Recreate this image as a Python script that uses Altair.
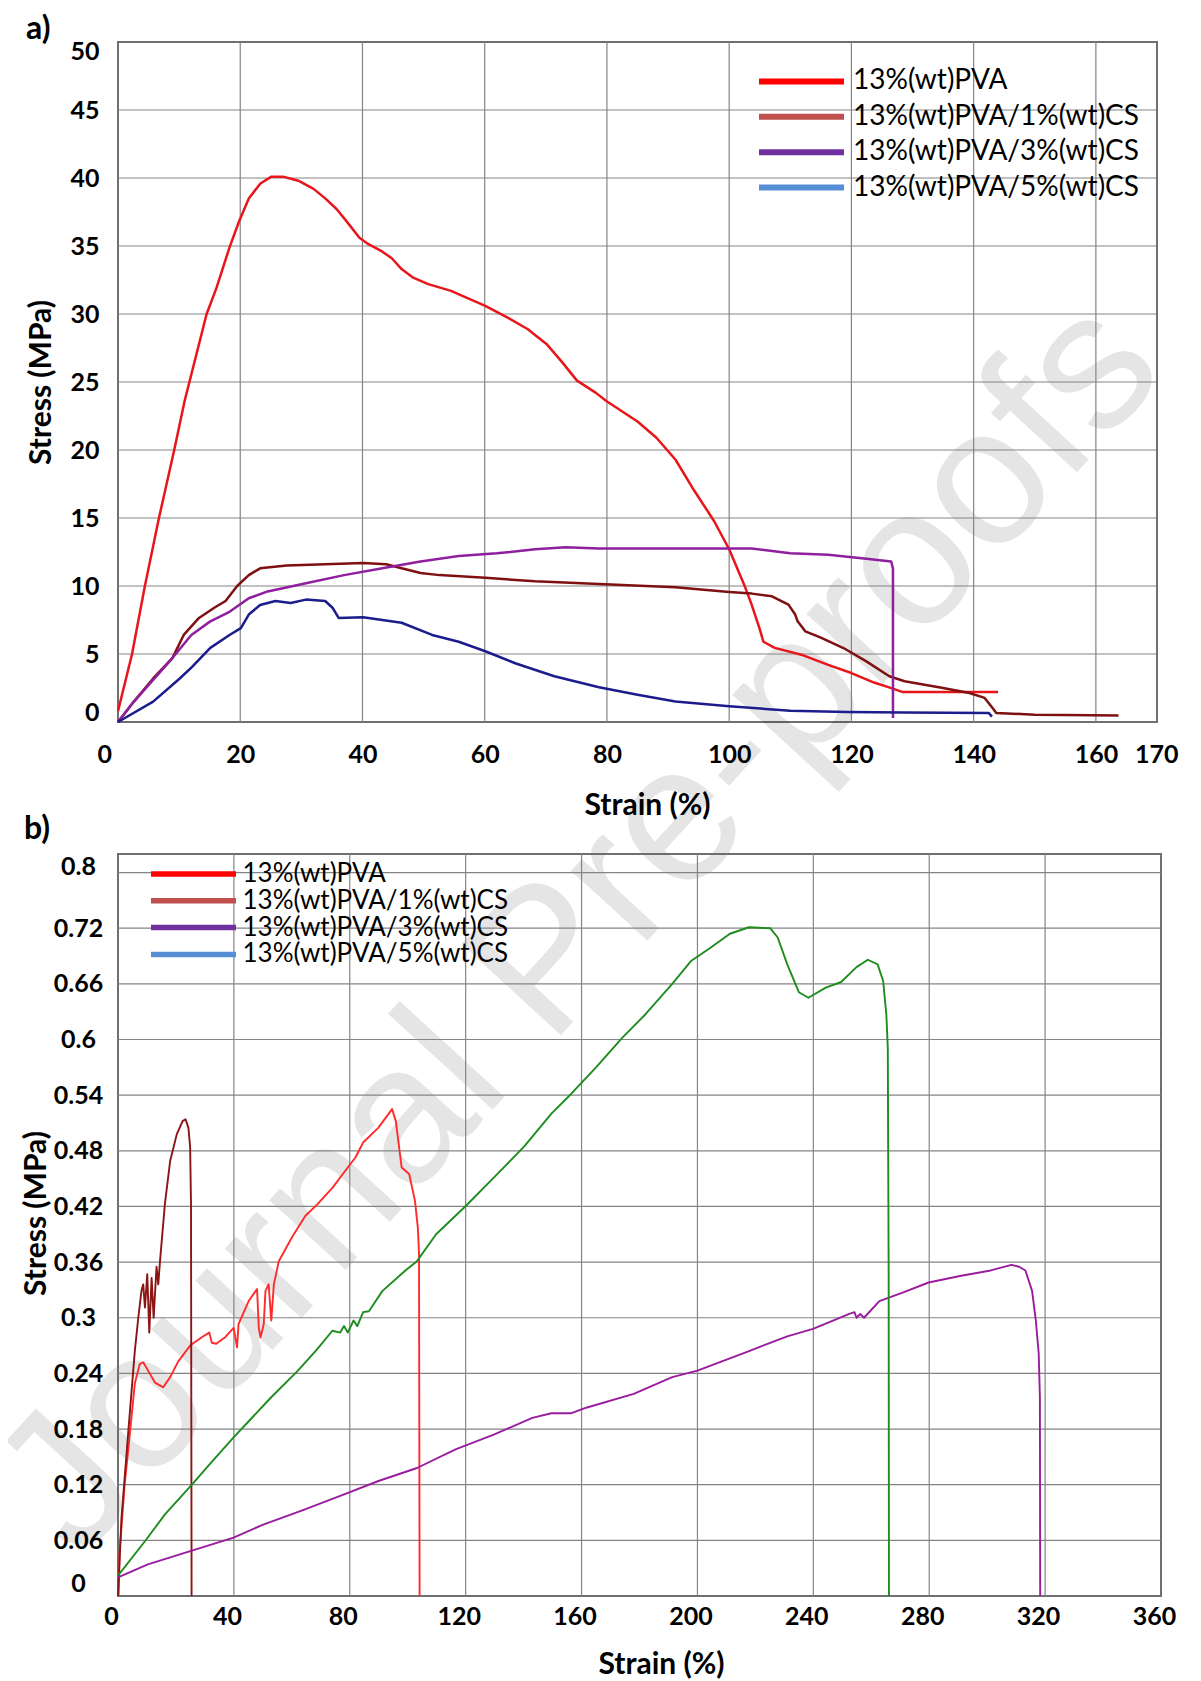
import altair as alt
import pandas as pd

# ---------------- shared labels / colours ----------------
series_labels = ["13%(wt)PVA", "13%(wt)PVA/1%(wt)CS", "13%(wt)PVA/3%(wt)CS", "13%(wt)PVA/5%(wt)CS"]
legend_colors = ["#ff0000", "#c0504d", "#7030a0", "#558ed5"]
a_line_colors = ["#e8161b", "#7f1010", "#8f1f9f", "#1c1c8c"]
b_line_colors = ["#ff2a2a", "#8b1414", "#9a1c9e", "#1e8c1e"]
panel_letters = ["a)", "b)"]
watermark_text = ["Journal Pre-proofs"]

# ---------------- panel a : strain (%) / stress (MPa) ----------------
a_pva_strain = [0, 2.3, 4.4, 6.7, 9.2, 10.9, 14.5, 16.1, 18.25, 19.8, 21.4, 23.3, 25.1, 27, 29.5, 32, 33.9,
                35.8, 37.6, 39.5, 40.75, 43.2, 44.8, 46.4, 48.2, 50.75, 54.5, 57, 60.1, 63.9, 67, 70.1, 72.6,
                75.1, 78.2, 79.9, 85, 88.1, 91.2, 94.3, 97.5, 100, 102.45, 103.7, 104.95, 105.6, 107.45, 111.8,
                116.2, 120, 123.7, 126.8, 128.4, 144]
a_pva_stress = [0.8, 5, 10, 15, 20, 23.6, 30.0, 31.9, 34.9, 36.8, 38.5, 39.6, 40.1, 40.1, 39.8, 39.2, 38.5,
                37.7, 36.7, 35.6, 35.2, 34.6, 34.1, 33.3, 32.7, 32.2, 31.7, 31.2, 30.6, 29.7, 28.9, 27.8, 26.5,
                25.1, 24.2, 23.6, 22.1, 20.9, 19.3, 17.0, 14.8, 12.7, 10.1, 8.6, 6.9, 5.9, 5.45, 4.95,
                4.2, 3.6, 2.9, 2.45, 2.2, 2.2]
a_cs1_strain = [0, 2.6, 5.75, 8.9, 10.75, 13.25, 15.75, 17.6, 19.5, 21.4, 23.25, 27.6, 33.9, 40.1, 43.9, 46.4,
                49.5, 52.6, 60.1, 68.25, 78.7, 91.2, 100, 103.7, 107, 109.7, 110.8, 111.2, 112.45, 115, 118.7,
                122.45, 126.2, 128.7, 135, 139.3, 141.8, 143.1, 143.7, 150, 163.7]
a_cs1_stress = [0, 1.5, 3.2, 4.7, 6.4, 7.65, 8.4, 8.9, 10.0, 10.8, 11.3, 11.5, 11.6, 11.7, 11.6, 11.3,
                10.95, 10.8, 10.6, 10.35, 10.15, 9.9, 9.56, 9.44, 9.24, 8.63, 7.9, 7.4, 6.67, 6.2, 5.44,
                4.46, 3.36, 3.0, 2.5, 2.13, 1.77, 1.03, 0.67, 0.54, 0.47]
a_cs3_strain = [0, 2.6, 5.75, 8.9, 12, 15.1, 18.25, 21.4, 24.5, 30.75, 37, 43.25, 49.5, 55.75, 62, 68.25,
                73.25, 78.7, 103.7, 110, 116.2, 122.45, 126.5, 126.8, 126.8]
a_cs3_stress = [0, 1.5, 3.1, 4.7, 6.4, 7.4, 8.1, 9.1, 9.6, 10.2, 10.8, 11.3, 11.8, 12.2, 12.4, 12.7,
                12.85, 12.75, 12.75, 12.4, 12.3, 12.0, 11.8, 11.3, 0.3]
a_cs5_strain = [0, 5.75, 10.1, 12, 15.1, 18.25, 20.1, 21.4, 23.25, 25.75, 28.25, 30.75, 33.9, 35.1, 36.1,
                40.1, 46.4, 51.4, 55.75, 60.1, 65.1, 71.4, 78.7, 85, 91.2, 100, 110, 119.3, 128.7, 142.45, 143]
a_cs5_stress = [0, 1.5, 3.2, 4.0, 5.45, 6.4, 6.9, 7.9, 8.6, 8.9, 8.75, 9.0, 8.9, 8.4, 7.65,
                7.7, 7.3, 6.4, 5.9, 5.2, 4.3, 3.36, 2.55, 2.0, 1.5, 1.15, 0.83, 0.74, 0.7, 0.67, 0.4]

a_x_labels = [0, 20, 40, 60, 80, 100, 120, 140, 160, 170]
a_x_grid = [20, 40, 60, 80, 100, 120, 140, 160]
a_y_labels = [0, 5, 10, 15, 20, 25, 30, 35, 40, 45, 50]
a_y_grid = [5, 10, 15, 20, 25, 30, 35, 40, 45]

# ---------------- panel b ----------------
b_pva_strain = [0.2, 0.5, 2.3, 4.1, 5.8, 7.5, 8.7, 10.4, 12.8, 15.6, 18, 20.8, 24.9, 28.9, 31.5, 32.4, 33.9,
                37, 39.9, 41.1, 41.6, 45.1, 48, 48.6, 49.2, 50.3, 50.9, 52, 52.9, 53.8, 55.5, 60.1, 64.7,
                68.7, 74, 79.3, 82, 84.6, 89.9, 94.6, 95.9, 97.9, 100.5, 102.5, 103.5, 103.9, 104.1]
b_pva_stress = [0.0, 0.045, 0.12, 0.175, 0.229, 0.25, 0.252, 0.243, 0.230, 0.225, 0.236, 0.253, 0.270, 0.279,
                0.284, 0.273, 0.272, 0.279, 0.289, 0.268, 0.293, 0.318, 0.331, 0.289, 0.279, 0.293, 0.329,
                0.336, 0.297, 0.336, 0.361, 0.387, 0.41, 0.422, 0.440, 0.462, 0.473, 0.489, 0.505, 0.525,
                0.512, 0.462, 0.455, 0.426, 0.397, 0.369, 0.0]
b_cs1_strain = [0.0, 0.3, 1.2, 3.5, 5.8, 7, 8.1, 8.7, 9.3, 10.1, 10.8, 11.6, 12.3, 13.3, 13.9, 14.5, 16.2, 18,
                20.3, 22.3, 23.3, 24.3, 24.9, 25.2, 25.4]
b_cs1_stress = [0.0, 0.02, 0.084, 0.175, 0.264, 0.300, 0.329, 0.336, 0.311, 0.347, 0.284, 0.343, 0.300, 0.355,
                0.336, 0.361, 0.423, 0.469, 0.498, 0.512, 0.514, 0.505, 0.484, 0.422, 0.0]
b_cs3_strain = [0, 10.3, 25.5, 39.9, 50.1, 63.4, 76.7, 89.9, 103.2, 116.5, 129.7, 143, 149.6, 156.3, 161.6,
                178, 191.3, 200, 217.8, 231, 239.9, 252.2, 254.2, 254.9, 256.2, 257.5, 262.8, 270.8, 279.8,
                290.6, 301.2, 308.4, 311, 313.2, 315.5, 316.8, 317.8, 318.2, 318.3]
b_cs3_stress = [0.020, 0.034, 0.049, 0.063, 0.077, 0.092, 0.108, 0.124, 0.138, 0.158, 0.174, 0.192, 0.197,
                0.197, 0.203, 0.218, 0.236, 0.243, 0.264, 0.280, 0.288, 0.304, 0.306, 0.300, 0.304, 0.300,
                0.318, 0.327, 0.338, 0.345, 0.351, 0.357, 0.355, 0.351, 0.329, 0.297, 0.261, 0.214, 0.0]
b_cs5_strain = [0, 9.3, 16.2, 25.5, 31.6, 39.9, 52.8, 62.1, 68.7, 74, 76.7, 78, 79.3, 81.3, 82.6, 84.6, 86.6,
                91.3, 99.2, 103.2, 109.8, 120.2, 129.7, 140.3, 149.6, 156.3, 165, 174.1, 182, 191.3, 197.9,
                204.5, 211.2, 217.8, 225.1, 227.7, 231, 235, 238.3, 244.3, 249.6, 254.9, 258.8, 262.2,
                264.1, 265.2, 265.7, 266, 266.1]
b_cs5_stress = [0.022, 0.059, 0.088, 0.12, 0.142, 0.171, 0.214, 0.243, 0.266, 0.286, 0.284, 0.291, 0.284,
                0.297, 0.291, 0.306, 0.307, 0.329, 0.351, 0.361, 0.390, 0.421, 0.451, 0.485, 0.520, 0.541,
                0.570, 0.602, 0.627, 0.660, 0.685, 0.699, 0.714, 0.721, 0.720, 0.710, 0.681, 0.651, 0.645,
                0.656, 0.662, 0.678, 0.686, 0.681, 0.663, 0.627, 0.591, 0.35, 0.0]

b_x_labels = [0, 40, 80, 120, 160, 200, 240, 280, 320, 360]
b_x_grid = [40, 80, 120, 160, 200, 240, 280, 320]
b_y_labels = [0, 0.06, 0.12, 0.18, 0.24, 0.3, 0.36, 0.42, 0.48, 0.54, 0.6, 0.66, 0.72, 0.8]
b_y_grid = [0.06, 0.12, 0.18, 0.24, 0.3, 0.36, 0.42, 0.48, 0.54, 0.6, 0.66, 0.72, 0.78]


def curves_df(strains, stresses):
    rows = []
    for name, xs, ys in zip(series_labels, strains, stresses):
        for i, (x, y) in enumerate(zip(xs, ys)):
            rows.append({"series": name, "strain": x, "stress": y, "idx": i})
    return pd.DataFrame(rows)


df_a = curves_df([a_pva_strain, a_cs1_strain, a_cs3_strain, a_cs5_strain],
                 [a_pva_stress, a_cs1_stress, a_cs3_stress, a_cs5_stress])
df_b = curves_df([b_pva_strain, b_cs1_strain, b_cs3_strain, b_cs5_strain],
                 [b_pva_stress, b_cs1_stress, b_cs3_stress, b_cs5_stress])
legend_df = pd.DataFrame({"label": series_labels})

FONT = "Lato"
GRID = "#848484"
lab = dict(labelFont=FONT, labelFontWeight="bold", labelFontSize=25, labelColor="black",
           titleFont=FONT, titleFontWeight="bold", titleFontSize=30, titleColor="black",
           grid=False, ticks=False, tickSize=0, domain=False, labelOverlap=False)


def panel(df, line_colors, xdom, ydom, xlabels, ylabels, xgrid, ygrid, xaxis_kw, yaxis_kw,
          leg, width, height, letter, letter_xy, lw, extra_first=None):
    xe = alt.X("strain:Q", scale=alt.Scale(domain=xdom, nice=False, zero=False),
               axis=alt.Axis(values=xlabels, title="Strain (%)", **lab, **xaxis_kw))
    ye = alt.Y("stress:Q", scale=alt.Scale(domain=ydom, nice=False, zero=False),
               axis=alt.Axis(values=ylabels, title="Stress (MPa)", titleAngle=270,
                             titleAlign="center", titleBaseline="middle", **lab, **yaxis_kw))
    gx = alt.Chart(pd.DataFrame({"strain": xgrid})).mark_rule(color=GRID, strokeWidth=1.2).encode(x=xe)
    gy = alt.Chart(pd.DataFrame({"stress": ygrid})).mark_rule(color=GRID, strokeWidth=1.2).encode(y=ye)
    lines = alt.Chart(df).mark_line(strokeWidth=lw, strokeJoin="round").encode(
        x=xe, y=ye,
        stroke=alt.Stroke("series:N", scale=alt.Scale(domain=series_labels, range=line_colors), legend=None),
        order=alt.Order("idx:Q"),
    )
    inner = alt.layer(gx, gy, lines)

    # legend: one row per series, rows placed by a point scale
    ly = alt.Y("label:N", scale=alt.Scale(type="point", domain=series_labels, range=leg["rows"], padding=0),
               axis=None)
    leg_rule = alt.Chart(legend_df).mark_rule(strokeWidth=leg["sw"]).encode(
        x=alt.value(leg["x0"]), x2=alt.value(leg["x1"]), y=ly,
        color=alt.Color("label:N", scale=alt.Scale(domain=series_labels, range=legend_colors), legend=None),
    )
    leg_text = alt.Chart(legend_df).mark_text(align="left", baseline="middle", font=FONT,
                                              fontSize=leg["fs"], color="black").encode(
        x=alt.value(leg["tx"]), y=ly, text="label:N")
    letter_mark = alt.Chart(pd.DataFrame({"t": [letter]})).mark_text(
        align="left", baseline="alphabetic", font=FONT, fontSize=32, fontWeight="bold", color="black"
    ).encode(x=alt.value(letter_xy[0]), y=alt.value(letter_xy[1]), text="t:N")

    layers = ([extra_first] if extra_first is not None else []) + [inner, leg_rule, leg_text, letter_mark]
    return alt.layer(*layers).resolve_scale(y="independent", color="independent").properties(
        width=width, height=height)


watermark = alt.Chart(pd.DataFrame({"wm": watermark_text})).mark_text(
    font="Liberation Sans", fontSize=196, angle=312.5, align="center", baseline="middle",
    fill="#000000", fillOpacity=0.1
).encode(x=alt.value(462), y=alt.value(885), text="wm:N")

panel_a = panel(
    df_a, a_line_colors, [0, 170], [0, 50], a_x_labels, a_y_labels, a_x_grid, a_y_grid,
    xaxis_kw=dict(format="d", labelPadding=20, labelFlush=True, labelFlushOffset=21,
                  titleX=529, titleY=83, titleBaseline="middle", titleAlign="center"),
    yaxis_kw=dict(format="d", labelPadding=19, labelFlush=True, labelFlushOffset=3,
                  titleX=-77, titleY=340),
    leg=dict(rows=[39.4, 145.6], x0=641, x1=726, sw=6, tx=735, fs=28),
    width=1039, height=680, letter=panel_letters[0], letter_xy=(-92, -3),
    lw=2.5, extra_first=watermark,
)

panel_b = panel(
    df_b, b_line_colors, [0, 360], [0, 0.8], b_x_labels, b_y_labels, b_x_grid, b_y_grid,
    xaxis_kw=dict(format="d", labelPadding=8, labelFlush=False, labelOffset=-7,
                  titleX=543, titleY=68, titleBaseline="middle", titleAlign="center"),
    yaxis_kw=dict(format="~g", labelPadding=40, labelAlign="center", labelFlush=True,
                  labelFlushOffset=0, titleX=-82, titleY=359),
    leg=dict(rows=[20, 100.4], x0=33, x1=118, sw=5.5, tx=124.5, fs=26),
    width=1043, height=742, letter=panel_letters[1], letter_xy=(-94, -15),
    lw=1.9,
)

chart = alt.vconcat(panel_a, panel_b, spacing=132, bounds="flush").resolve_scale(
    x="independent", y="independent", color="independent", stroke="independent"
).configure_view(
    stroke="#6f6f6f", strokeWidth=2
).properties(
    padding={"left": -46, "top": 4, "right": -10, "bottom": 0}, background="white"
)

chart.save("out.html", embed_options={"renderer": "svg", "actions": False})
